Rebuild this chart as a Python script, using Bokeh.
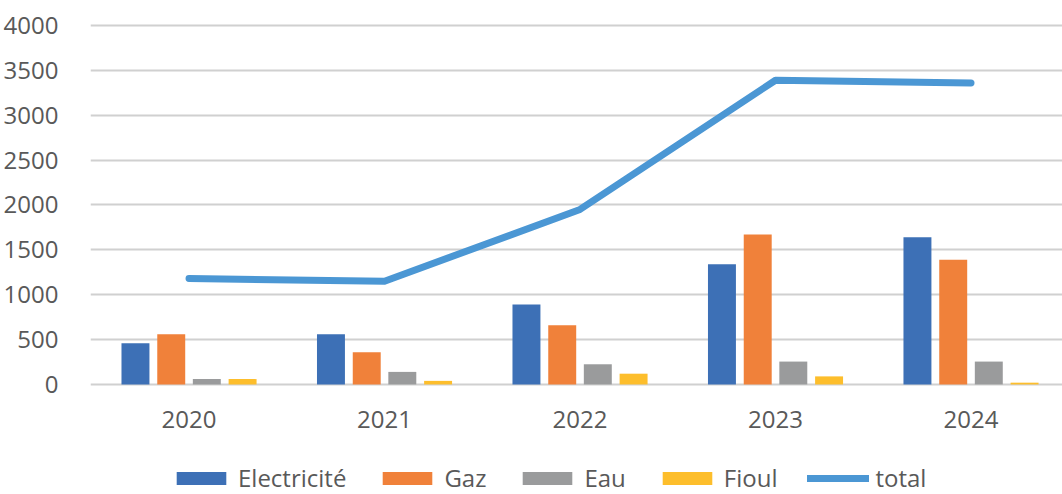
from bokeh.plotting import figure
from bokeh.models import ColumnDataSource, Range1d, FixedTicker, Legend, LegendItem
from bokeh.transform import dodge
from bokeh.embed import file_html
from bokeh.resources import INLINE

years = ["2020", "2021", "2022", "2023", "2024"]
electricite = [460, 560, 890, 1340, 1640]
gaz = [560, 360, 660, 1670, 1390]
eau = [60, 140, 225, 255, 255]
fioul = [60, 40, 120, 90, 20]
total = [1180, 1150, 1950, 3390, 3360]

series_names = ["Electricité", "Gaz", "Eau", "Fioul"]
series_cols = ["electricite", "gaz", "eau", "fioul"]
colors = ["#3D70B6", "#F0813A", "#9A9B9C", "#FDBE2C"]
line_color = "#4B97D4"

idx = list(range(len(years)))
src = ColumnDataSource(dict(x=idx, electricite=electricite, gaz=gaz, eau=eau,
                            fioul=fioul, total=total))

FONT = "Open Sans"
TXT = "#595959"

p = figure(width=1062, height=494, output_backend="svg", toolbar_location=None,
           x_range=Range1d(-0.504, 4.468), y_range=Range1d(-1226, 4033),
           min_border_left=90, min_border_right=0, min_border_top=22,
           min_border_bottom=0)
p.outline_line_color = None
p.background_fill_color = "white"
p.border_fill_color = "white"

offsets = [-0.274, -0.091, 0.091, 0.274]
renderers = []
for col, off, c in zip(series_cols, offsets, colors):
    r = p.vbar(x=dodge("x", off), top=col, width=0.143, source=src,
               fill_color=c, line_color=None)
    renderers.append(r)

lr = p.line(x="x", y="total", source=src, line_color=line_color, line_width=7,
            line_cap="round", line_join="round")
renderers.append(lr)

# axes
p.xaxis.fixed_location = 0
p.xaxis.ticker = FixedTicker(ticks=idx)
p.xaxis.major_label_overrides = {i: y for i, y in zip(idx, years)}
p.xaxis.axis_line_color = None
p.xaxis.major_tick_line_color = None
p.xaxis.minor_tick_line_color = None
p.xaxis.major_label_standoff = 21
p.xaxis.major_label_text_font = FONT
p.xaxis.major_label_text_font_size = "24px"
p.xaxis.major_label_text_color = TXT

p.yaxis.ticker = FixedTicker(ticks=list(range(0, 4001, 500)))
p.yaxis.axis_line_color = None
p.yaxis.major_tick_line_color = None
p.yaxis.minor_tick_line_color = None
p.yaxis.major_label_standoff = 26
p.yaxis.major_label_text_font = FONT
p.yaxis.major_label_text_font_size = "24px"
p.yaxis.major_label_text_color = TXT

p.xgrid.grid_line_color = None
p.ygrid.ticker = FixedTicker(ticks=list(range(0, 4001, 500)))
p.ygrid.grid_line_color = "#D0D0D0"
p.ygrid.grid_line_width = 2

items = [LegendItem(label=n, renderers=[r]) for n, r in zip(series_names + ["total"], renderers)]
legend = Legend(items=items, orientation="horizontal", location=(80, 0),
                glyph_width=62, glyph_height=16, label_standoff=6, spacing=30,
                padding=0, margin=0, border_line_color=None,
                background_fill_alpha=0,
                label_text_font=FONT, label_text_font_size="24px",
                label_text_color=TXT, label_height=20)
p.add_layout(legend, "center")

open("out.html", "w").write(file_html(p, INLINE))
